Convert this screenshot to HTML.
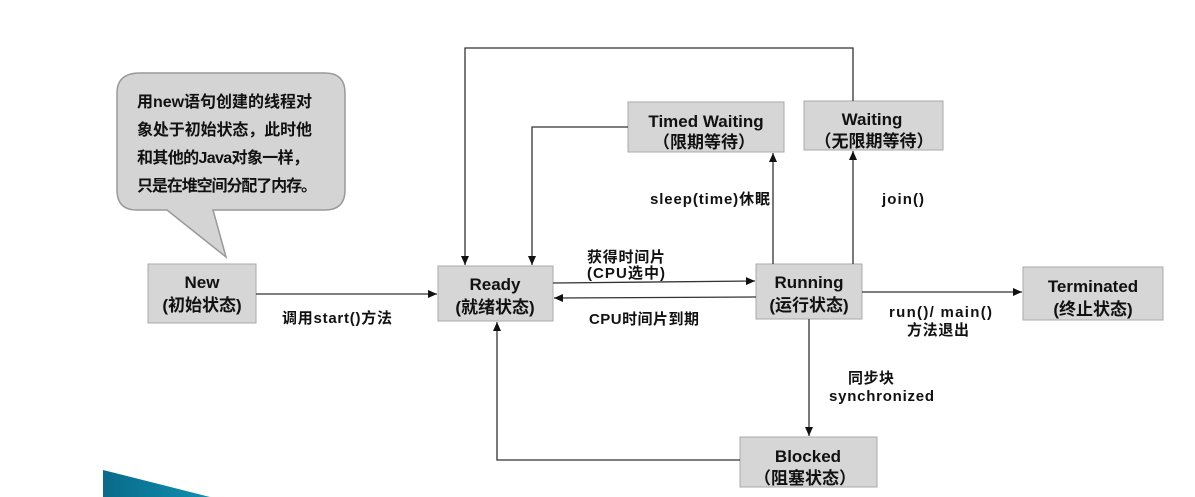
<!DOCTYPE html>
<html><head><meta charset="utf-8"><style>
html,body{margin:0;padding:0;background:#fff;}
svg{display:block;}
text{font-family:"Liberation Sans","Noto Sans CJK SC",sans-serif;font-weight:bold;fill:#111;}
</style></head><body>
<svg width="1195" height="497" viewBox="0 0 1195 497" xmlns="http://www.w3.org/2000/svg">
<defs>
<marker id="a" markerWidth="10" markerHeight="10" refX="9" refY="5" orient="auto" markerUnits="userSpaceOnUse">
<path d="M0,1 L9,5 L0,9 z" fill="#111"/></marker>
<linearGradient id="g" x1="0" x2="1"><stop offset="0" stop-color="#0a6a8a"/><stop offset="1" stop-color="#1090b0"/></linearGradient>
</defs>
<path d="M140,73 H325 Q345,73 345,93 V190 Q345,210 325,210 H213 L226,257 L167,210 H137 Q117,210 117,190 V93 Q117,73 140,73 Z" fill="#d4d4d4" stroke="#999" stroke-width="1.5"/>
<g font-size="16">
<text x="137" y="107" textLength="175">用new语句创建的线程对</text>
<text x="137" y="135" textLength="175">象处于初始状态，此时他</text>
<text x="137" y="163" textLength="172">和其他的Java对象一样，</text>
<text x="137" y="191" textLength="180">只是在堆空间分配了内存。</text>
</g>
<g fill="#d6d6d6" stroke="#aaa" stroke-width="1">
<rect x="148" y="264" width="108" height="59"/>
<rect x="438" y="266" width="115" height="55"/>
<rect x="756" y="264" width="106" height="55"/>
<rect x="1023" y="267" width="140" height="53"/>
<rect x="628" y="102" width="156" height="50"/>
<rect x="804" y="101" width="139" height="49"/>
<rect x="740" y="437" width="137" height="50"/>
</g>
<g font-size="17" text-anchor="middle">
<text x="202" y="288">New</text><text x="202" y="311">(初始状态)</text>
<text x="495" y="290">Ready</text><text x="495" y="313">(就绪状态)</text>
<text x="809" y="288">Running</text><text x="809" y="311">(运行状态)</text>
<text x="1093" y="292">Terminated</text><text x="1093" y="315">(终止状态)</text>
<text x="706" y="127">Timed Waiting</text><text x="704" y="148">（限期等待）</text>
<text x="872" y="125">Waiting</text><text x="874" y="147">（无限期等待）</text>
<text x="808" y="462">Blocked</text><text x="805" y="484">（阻塞状态）</text>
</g>
<g stroke="#333" stroke-width="1.3" fill="none">
<line x1="256" y1="294" x2="437" y2="294" marker-end="url(#a)"/>
<polyline points="853,101 853,48 465,48 465,265" marker-end="url(#a)"/>
<polyline points="628,127 532,127 532,265" marker-end="url(#a)"/>
<line x1="773" y1="264" x2="773" y2="153" marker-end="url(#a)"/>
<line x1="853" y1="264" x2="853" y2="151" marker-end="url(#a)"/>
<line x1="553" y1="283" x2="755" y2="281" marker-end="url(#a)"/>
<line x1="756" y1="297" x2="554" y2="298" marker-end="url(#a)"/>
<line x1="862" y1="292" x2="1022" y2="292" marker-end="url(#a)"/>
<line x1="809" y1="319" x2="809" y2="436" marker-end="url(#a)"/>
<polyline points="740,460 497,460 497,322" marker-end="url(#a)"/>
</g>
<g font-size="15">
<text x="282" y="323" textLength="110">调用start()方法</text>
<text x="587" y="262" textLength="78">获得时间片</text>
<text x="587" y="278" textLength="78">(CPU选中)</text>
<text x="589" y="324" textLength="110">CPU时间片到期</text>
<text x="650" y="204" textLength="120">sleep(time)休眠</text>
<text x="882" y="204" textLength="42">join()</text>
<text x="889" y="317" textLength="103">run()/ main()</text>
<text x="907" y="335" textLength="62">方法退出</text>
<text x="848" y="383" textLength="46">同步块</text>
<text x="829" y="401" textLength="105">synchronized</text>
</g>
<polygon points="103,470 210,497 103,497" fill="url(#g)"/>
</svg>
</body></html>
